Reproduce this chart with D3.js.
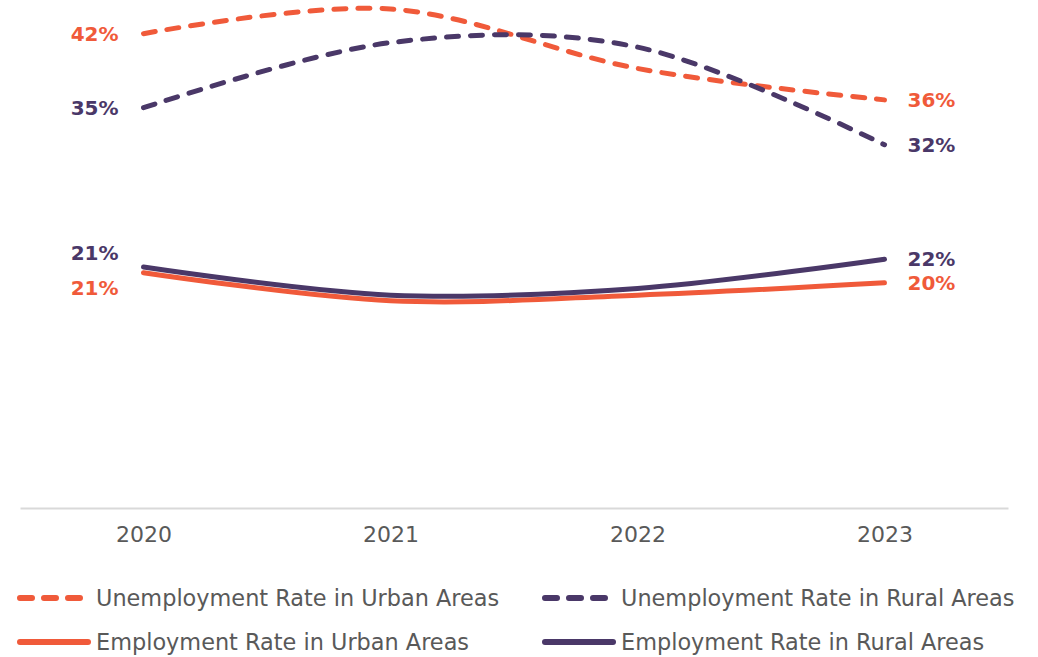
<!DOCTYPE html>
<html>
<head>
<meta charset="utf-8">
<script src="https://cdn.jsdelivr.net/npm/d3@7"></script>
<style>
    body { margin: 0; background: #fff; }
    svg { display: block; font-family: 'DejaVu Sans', sans-serif; }
</style>
</head>
<body>
<div class="canvas"></div>
<script>
// DATA
const years = ['2020', '2021', '2022', '2023'];
const urbanUnemployment = [42.0, 44.2, 38.9, 36.1];
const ruralUnemployment = [35.4, 41.2, 40.8, 32.1];
const urbanEmployment = [20.7, 18.2, 18.7, 19.8];
const ruralEmployment = [21.2, 18.7, 19.3, 21.9];
const seriesNames = [
    'Unemployment Rate in Urban Areas',
    'Unemployment Rate in Rural Areas',
    'Employment Rate in Urban Areas',
    'Employment Rate in Rural Areas'
];

const orange = '#f05a3a';
const purple = '#4a3868';

const series = [
    { name: seriesNames[0], values: urbanUnemployment, color: orange, dashed: true },
    { name: seriesNames[1], values: ruralUnemployment, color: purple, dashed: true },
    { name: seriesNames[2], values: urbanEmployment, color: orange, dashed: false },
    { name: seriesNames[3], values: ruralEmployment, color: purple, dashed: false }
];


// worksheet
const svg = d3.select('.canvas').append('svg')
    .attr('width', 1038)
    .attr('height', 657);


// scales
const x = d3.scalePoint()
    .domain(years)
    .range([20, 1008])
    .padding(0.5);

const y = d3.scaleLinear()
    .domain([0, 45])
    .range([505, 0]);


// x axis
const xAxis = svg.append('g')
    .attr('transform', 'translate(0,508)')
    .call(d3.axisBottom(x).tickSize(0).tickSizeOuter(0).tickPadding(18));

xAxis.select('.domain')
    .attr('stroke', '#d9d9d9')
    .attr('stroke-width', 2);

xAxis.selectAll('text')
    .attr('fill', '#595959')
    .style('font-size', '22px')
    .style('font-family', "'DejaVu Sans', sans-serif");


// lines
const line = d3.line()
    .x((d, i) => x(years[i]))
    .y(d => y(d))
    .curve(d3.curveCardinal);

series.forEach(s => {
    svg.append('path')
        .attr('d', line(s.values))
        .attr('fill', 'none')
        .attr('stroke', s.color)
        .attr('stroke-width', 5)
        .attr('stroke-linecap', 'round')
        .attr('stroke-dasharray', s.dashed ? '12,12' : null);
});


// end labels, nudged apart when they collide
const fmt = v => `${Math.round(v)}%`;

function placeLabels(idx) {
    const labels = series.map(s => ({ s, v: s.values[idx], y: y(s.values[idx]) }))
        .sort((a, b) => a.y - b.y);
    for (let i = 1; i < labels.length; i++) {
        const gap = labels[i].y - labels[i - 1].y;
        if (gap < 20) {
            const mid = (labels[i].y + labels[i - 1].y) / 2;
            labels[i - 1].y = mid - 17.5;
            labels[i].y = mid + 17.5;
        }
    }
    return labels;
}

placeLabels(0).forEach(l => {
    svg.append('text')
        .attr('x', x(years[0]) - 25)
        .attr('y', l.y)
        .attr('dy', '0.36em')
        .attr('text-anchor', 'end')
        .attr('fill', l.s.color)
        .style('font-size', '20px')
        .style('font-weight', 700)
        .text(fmt(l.v));
});

placeLabels(years.length - 1).forEach(l => {
    svg.append('text')
        .attr('x', x(years[years.length - 1]) + 23)
        .attr('y', l.y)
        .attr('dy', '0.36em')
        .attr('fill', l.s.color)
        .style('font-size', '20px')
        .style('font-weight', 700)
        .text(fmt(l.v));
});


// LEGEND
series.forEach((s, i) => {
    const col = i % 2;
    const row = Math.floor(i / 2);
    const g = svg.append('g')
        .attr('transform', `translate(${20 + col * 525},${598 + row * 44})`);

    g.append('line')
        .attr('x1', 0)
        .attr('x2', 68)
        .attr('stroke', s.color)
        .attr('stroke-width', 6)
        .attr('stroke-linecap', 'round')
        .attr('stroke-dasharray', s.dashed ? '12,12' : null);

    g.append('text')
        .attr('x', 76)
        .attr('dy', '0.36em')
        .attr('fill', '#595959')
        .style('font-size', '22.4px')
        .text(s.name);
});
</script>
</body>
</html>
